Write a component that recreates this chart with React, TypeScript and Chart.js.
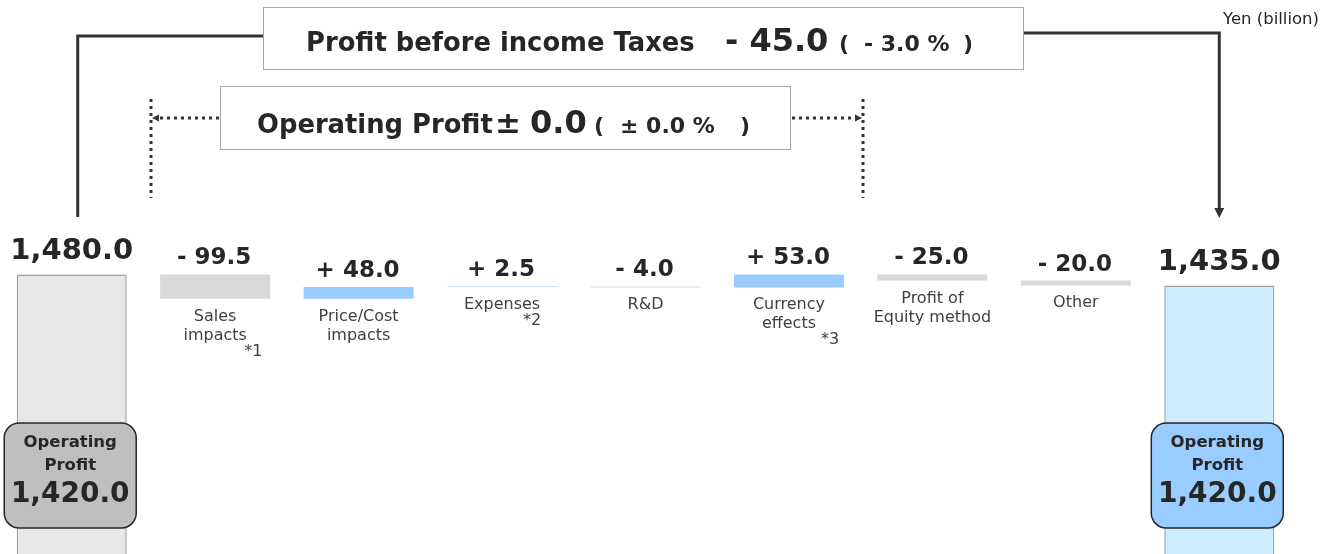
import React, { useEffect, useRef } from "react";
import { Chart, registerables } from "chart.js";

Chart.register(...registerables);

// ---------------- DATA ----------------
const CATEGORIES = [
  "FY prior",
  "Sales impacts",
  "Price/Cost impacts",
  "Expenses",
  "R&D",
  "Currency effects",
  "Profit of Equity method",
  "Other",
  "FY current",
];
const CATEGORY_LINES: string[][] = [
  [],
  ["Sales", "impacts"],
  ["Price/Cost", "impacts"],
  ["Expenses"],
  ["R&D"],
  ["Currency", "effects"],
  ["Profit of", "Equity method"],
  ["Other"],
  [],
];
const FOOTNOTES = ["", "*1", "", "*2", "", "*3", "", "", ""];
const START_VALUE = 1480.0;
const DELTAS = [-99.5, 48.0, 2.5, -4.0, 53.0, -25.0, -20.0];
const END_VALUE = 1435.0;
const OP_PROFIT_START = 1420.0;
const OP_PROFIT_END = 1420.0;
const PBT_CHANGE = -45.0;
const PBT_CHANGE_PCT = -3.0;
const OP_CHANGE = 0.0;
const OP_CHANGE_PCT = 0.0;
const UNIT_LABEL = "Yen (billion)";
const PBT_TITLE = "Profit before income Taxes";
const OP_TITLE = "Operating Profit";
const OP_BOX_LINES = ["Operating", "Profit"];

// ---------------- helpers ----------------
const FONT = '"DejaVu Sans", Verdana, sans-serif';
const TEXT_DARK = "#262626";

const fmtTotal = (v: number) =>
  v.toLocaleString("en-US", { minimumFractionDigits: 1, maximumFractionDigits: 1 });
const fmtDelta = (d: number) =>
  (d < 0 ? "- " : d > 0 ? "+ " : "± ") + Math.abs(d).toFixed(1);

function buildFloats(): [number, number][] {
  const out: [number, number][] = [[0, START_VALUE]];
  let run = START_VALUE;
  DELTAS.forEach((d) => {
    out.push([run, run + d]);
    run += d;
  });
  out.push([0, END_VALUE]);
  return out;
}

const FOOTNOTE_DX: Record<number, number> = { 1: 29, 3: 21, 5: 32 };

function arrowHead(ctx: CanvasRenderingContext2D, tipX: number, tipY: number, dir: "down" | "left" | "right", size: number) {
  ctx.beginPath();
  if (dir === "down") {
    ctx.moveTo(tipX, tipY);
    ctx.lineTo(tipX - size / 2, tipY - size);
    ctx.lineTo(tipX + size / 2, tipY - size);
  } else if (dir === "left") {
    ctx.moveTo(tipX, tipY);
    ctx.lineTo(tipX + size, tipY - size / 2);
    ctx.lineTo(tipX + size, tipY + size / 2);
  } else {
    ctx.moveTo(tipX, tipY);
    ctx.lineTo(tipX - size, tipY - size / 2);
    ctx.lineTo(tipX - size, tipY + size / 2);
  }
  ctx.closePath();
  ctx.fill();
}

function drawSegments(ctx: CanvasRenderingContext2D, segs: [string, string, number][], baseline: number) {
  ctx.textAlign = "left";
  ctx.textBaseline = "alphabetic";
  segs.forEach(([t, f, x]) => {
    ctx.font = f;
    ctx.fillText(t, x, baseline);
  });
}

const overlayPlugin = {
  id: "overlay",
  afterDatasetsDraw(chart: any) {
    const ctx: CanvasRenderingContext2D = chart.ctx;
    const meta = chart.getDatasetMeta(0);
    const n = meta.data.length;
    ctx.save();

    // ---- value labels & category labels
    meta.data.forEach((el: any, i: number) => {
      const { x, y, base } = el.getProps(["x", "y", "base"], true);
      const top = Math.min(y, base);
      const bottom = Math.max(y, base);
      const isTotal = i === 0 || i === n - 1;
      ctx.textAlign = "center";
      ctx.textBaseline = "alphabetic";
      ctx.fillStyle = TEXT_DARK;
      if (isTotal) {
        ctx.font = `bold 29px ${FONT}`;
        ctx.fillText(fmtTotal(i === 0 ? START_VALUE : END_VALUE), x, top - 15);
      } else {
        ctx.font = `bold 23px ${FONT}`;
        ctx.fillText(fmtDelta(DELTAS[i - 1]), x - 1, top - 10);
        ctx.font = `16px ${FONT}`;
        ctx.fillStyle = "#404040";
        const lines = CATEGORY_LINES[i];
        lines.forEach((l, k) => ctx.fillText(l, x, bottom + 22 + k * 19));
        if (FOOTNOTES[i]) {
          ctx.textAlign = "left";
          ctx.fillText(FOOTNOTES[i], x + (FOOTNOTE_DX[i] || 20), bottom + 22 + (lines.length - 1) * 19 + 16);
        }
      }
    });

    // ---- Operating profit rounded boxes on total bars
    const drawOpBox = (cx: number, fill: string, value: number) => {
      const w = 132, h = 105, top = 423;
      ctx.beginPath();
      (ctx as any).roundRect(cx - w / 2, top, w, h, 15);
      ctx.fillStyle = fill;
      ctx.fill();
      ctx.lineWidth = 1.5;
      ctx.strokeStyle = "#262626";
      ctx.stroke();
      ctx.fillStyle = TEXT_DARK;
      ctx.textAlign = "center";
      ctx.font = `bold 16.5px ${FONT}`;
      ctx.fillText(OP_BOX_LINES[0], cx, 447);
      ctx.fillText(OP_BOX_LINES[1], cx, 470);
      ctx.font = `bold 28px ${FONT}`;
      ctx.fillText(fmtTotal(value), cx, 502);
    };
    const x0 = meta.data[0].x;
    const xN = meta.data[n - 1].x;
    drawOpBox(x0 - 1.5, "#bfbfbf", OP_PROFIT_START);
    drawOpBox(xN - 2, "#99ccff", OP_PROFIT_END);

    // ---- Profit before income taxes box
    ctx.fillStyle = "#ffffff";
    ctx.fillRect(263.5, 7.5, 760, 62);
    ctx.strokeStyle = "#a6a6a6";
    ctx.lineWidth = 1;
    ctx.strokeRect(263.5, 7.5, 760, 62);
    ctx.fillStyle = TEXT_DARK;
    drawSegments(
      ctx,
      [
        [PBT_TITLE, `bold 25.8px ${FONT}`, 306],
        [fmtDelta(PBT_CHANGE), `bold 32px ${FONT}`, 725],
        ["(", `bold 22px ${FONT}`, 839],
        [fmtDelta(PBT_CHANGE_PCT) + " %", `bold 22px ${FONT}`, 864],
        [")", `bold 22px ${FONT}`, 963],
      ],
      51
    );

    // ---- Operating profit box
    ctx.fillStyle = "#ffffff";
    ctx.fillRect(220.5, 86.5, 570, 63);
    ctx.strokeStyle = "#a6a6a6";
    ctx.lineWidth = 1;
    ctx.strokeRect(220.5, 86.5, 570, 63);
    ctx.fillStyle = TEXT_DARK;
    const opSign = OP_CHANGE === 0 ? "±" : OP_CHANGE < 0 ? "-" : "+";
    const opPctSign = OP_CHANGE_PCT === 0 ? "±" : OP_CHANGE_PCT < 0 ? "-" : "+";
    drawSegments(
      ctx,
      [
        [OP_TITLE, `bold 25.8px ${FONT}`, 257],
        [opSign, `bold 31px ${FONT}`, 495],
        [Math.abs(OP_CHANGE).toFixed(1), `bold 32px ${FONT}`, 530],
        ["(", `bold 22px ${FONT}`, 594],
        [opPctSign + " " + Math.abs(OP_CHANGE_PCT).toFixed(1) + " %", `bold 22px ${FONT}`, 620],
        [")", `bold 22px ${FONT}`, 740],
      ],
      133
    );

    // ---- solid connectors
    ctx.strokeStyle = "#333333";
    ctx.fillStyle = "#333333";
    ctx.lineWidth = 3;
    ctx.lineCap = "butt";
    ctx.lineJoin = "miter";
    const lx = x0 + 6;
    ctx.beginPath();
    ctx.moveTo(263, 36);
    ctx.lineTo(lx, 36);
    ctx.lineTo(lx, 217);
    ctx.stroke();
    const rx = xN;
    ctx.beginPath();
    ctx.moveTo(1024, 33);
    ctx.lineTo(rx, 33);
    ctx.lineTo(rx, 209);
    ctx.stroke();
    arrowHead(ctx, rx, 218, "down", 10);

    // ---- dotted connectors
    ctx.lineWidth = 3;
    ctx.setLineDash([3, 4]);
    ctx.beginPath();
    ctx.moveTo(151, 99);
    ctx.lineTo(151, 198);
    ctx.moveTo(863, 99);
    ctx.lineTo(863, 198);
    ctx.stroke();
    ctx.beginPath();
    ctx.moveTo(219, 118);
    ctx.lineTo(158, 118);
    ctx.moveTo(792, 118);
    ctx.lineTo(856, 118);
    ctx.stroke();
    ctx.setLineDash([]);
    arrowHead(ctx, 152, 118, "left", 7);
    arrowHead(ctx, 862, 118, "right", 7);

    // ---- unit label
    ctx.fillStyle = TEXT_DARK;
    ctx.font = `16.5px ${FONT}`;
    ctx.textAlign = "right";
    ctx.fillText(UNIT_LABEL, 1319, 24);

    ctx.restore();
  },
};

export default function App() {
  const canvasRef = useRef<HTMLCanvasElement | null>(null);

  useEffect(() => {
    if (!canvasRef.current) return;
    const floats = buildFloats();
    const last = floats.length - 1;
    const bg = floats.map((f, i) => {
      if (i === 0) return "#e8e8e8";
      if (i === last) return "#cceeff";
      return f[1] - f[0] < 0 ? "#d9d9d9" : "#99ccff";
    });
    const border = floats.map((_, i) => (i === 0 || i === last ? "#a0a0a0" : "rgba(0,0,0,0)"));
    const bw = floats.map((_, i) => (i === 0 || i === last ? 1.5 : 0));

    const chart = new Chart(canvasRef.current, {
      type: "bar",
      data: {
        labels: CATEGORIES,
        datasets: [
          {
            data: floats as any,
            backgroundColor: bg,
            borderColor: border,
            borderWidth: bw,
            borderSkipped: false,
            barPercentage: 0.767,
            categoryPercentage: 1,
          },
        ],
      },
      options: {
        responsive: false,
        animation: false,
        layout: { padding: { left: 0, right: 47, top: 0, bottom: 0 } },
        plugins: {
          legend: { display: false },
          tooltip: { enabled: false },
          title: { display: false },
        },
        scales: {
          x: { display: false, grid: { display: false } },
          y: { display: false, min: 334.5, max: 2605, grid: { display: false } },
        },
      },
      plugins: [overlayPlugin],
    });
    return () => chart.destroy();
  }, []);

  return (
    <div style={{ position: "absolute", left: 0, top: 0, width: 1338, height: 554, background: "#ffffff" }}>
      <canvas ref={canvasRef} width={1338} height={554} style={{ width: 1338, height: 554, display: "block" }} />
    </div>
  );
}
